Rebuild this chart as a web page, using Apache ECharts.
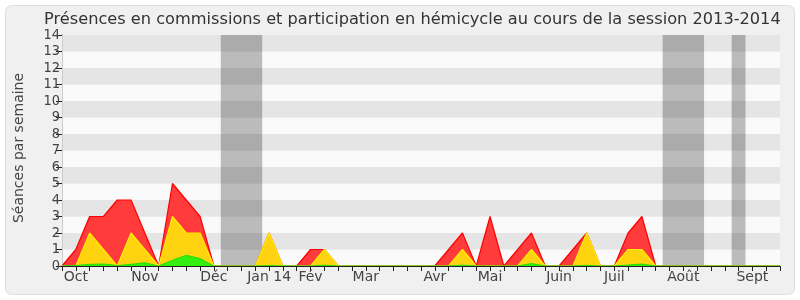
<!DOCTYPE html>
<html>
<head>
<meta charset="utf-8">
<script src="https://cdn.jsdelivr.net/npm/echarts@6/dist/echarts.min.js"></script>
<style>
html,body{margin:0;padding:0;background:#ffffff;}
#c{width:800px;height:300px;}
</style>
</head>
<body>
<div id="c"></div>
<script>
// Weekly values, weeks 0..52 of the 2013-2014 session
const weeks = Array.from({length: 53}, (_, i) => i);
const redTotal = [0,1,3,3,4,4,2,0,5,4,3,0,0,0,0,2,0,0,1,1,0,0,0,0,0,0,0,0,1,2,0,3,0,1,2,0,0,1,2,0,0,2,3,0,0,0,0,0,0,0,0,0,0];
const yellowTop = [0,0,2,1,0,2,1,0,3,2,2,0,0,0,0,2,0,0,0,1,0,0,0,0,0,0,0,0,0,1,0,0,0,0,1,0,0,0,2,0,0,1,1,0,0,0,0,0,0,0,0,0,0];
const greenTop = [0,0.03,0.1,0.12,0.03,0.1,0.2,0,0.35,0.65,0.45,0,0,0,0,0.03,0,0,0,0.05,0,0,0,0,0,0,0,0,0,0.05,0,0,0,0,0.15,0,0,0,0.04,0,0,0.06,0.12,0,0,0,0,0,0,0,0,0,0];
const monthWeeks = [1,6,11,15,18,22,27,31,36,40,45,50];
const monthLabels = ['Oct','Nov','Déc','Jan 14','Fév','Mar','Avr','Mai','Juin','Juil','Août','Sept'];
const vacances = [[11.5,14.5],[43.5,46.5],[48.5,49.5]];
const yTicks = [0,1,2,3,4,5,6,7,8,9,10,11,12,13,14];
const titleText = 'Présences en commissions et participation en hémicycle au cours de la session 2013-2014';
const yName = 'Séances par semaine';

const FONT = 'DejaVu Sans';
const pairs = arr => weeks.map((w, i) => [w, arr[i]]);
const labelMap = {};
monthWeeks.forEach((w, i) => labelMap[w] = monthLabels[i]);

const chart = echarts.init(document.getElementById('c'), null, {renderer: 'canvas'});
chart.setOption({
  animation: false,
  backgroundColor: '#ffffff',
  textStyle: {fontFamily: FONT},
  graphic: [
    {type: 'rect', z: -10, shape: {x: 5.5, y: 5.5, width: 789, height: 289, r: 6},
     style: {fill: '#f0f0f0', stroke: '#dedede', lineWidth: 1}},
    {type: 'text', z: 10, left: 44, top: 12,
     style: {text: titleText, font: '16.2px "DejaVu Sans"', fill: '#333333'}},
    {type: 'text', z: 10, x: 12, y: 148, rotation: Math.PI / 2, originX: 0, originY: 0,
     style: {text: yName, font: '14px "DejaVu Sans"', fill: '#444444', align: 'center', verticalAlign: 'top'}}
  ],
  grid: {left: 62, right: 20, top: 35, bottom: 34, containLabel: false},
  xAxis: [
    {type: 'value', min: 0, max: 52, interval: 1, z: 10,
     axisLine: {show: true, lineStyle: {color: '#222222', width: 1}},
     axisTick: {show: true, length: 5, lineStyle: {color: '#222222'}},
     axisLabel: {show: true, margin: 4, fontSize: 14, fontFamily: FONT, color: '#444444',
       formatter: v => labelMap[v] || ''},
     splitLine: {show: false}},
    {type: 'value', min: 0, max: 52, position: 'top', z: 10,
     axisLine: {show: true, lineStyle: {color: '#222222', width: 1, type: [1, 13], dashOffset: -4}},
     axisTick: {show: false}, axisLabel: {show: false}, splitLine: {show: false}}
  ],
  yAxis: [
    {type: 'value', min: 0, max: 14, interval: 1,
     axisLine: {show: true, lineStyle: {color: '#222222'}},
     axisTick: {show: true, length: 6, lineStyle: {color: '#222222'}},
     axisLabel: {margin: 2, fontSize: 14.5, fontFamily: '"DejaVu Sans Condensed", "DejaVu Sans"', color: '#444444',
       formatter: v => yTicks.includes(v) ? String(v) : ''},
     splitLine: {show: false},
     splitArea: {show: true, areaStyle: {color: ['#fafafa', '#e5e5e5']}}},
    {type: 'value', min: 0, max: 14, position: 'right',
     axisLine: {show: true, lineStyle: {color: '#cccccc'}},
     axisTick: {show: false}, axisLabel: {show: false}, splitLine: {show: false}}
  ],
  series: [
    {type: 'line', name: 'red', data: pairs(redTotal), symbol: 'none', z: 2,
     lineStyle: {color: '#ff0000', width: 1.2},
     areaStyle: {color: '#ff3b3b', opacity: 1, origin: 0},
     markArea: {silent: true, itemStyle: {color: 'rgba(0,0,0,0.25)'},
       data: vacances.map(v => [{xAxis: v[0]}, {xAxis: v[1]}])}},
    {type: 'line', name: 'yellow', data: pairs(yellowTop), symbol: 'none', z: 3,
     lineStyle: {color: '#ffee00', width: 1.2},
     areaStyle: {color: '#ffd30f', opacity: 1, origin: 0}},
    {type: 'line', name: 'green', data: pairs(greenTop), symbol: 'none', z: 4,
     lineStyle: {color: '#22dd00', width: 1},
     areaStyle: {color: '#33ee11', opacity: 1, origin: 0}}
  ]
});
</script>
</body>
</html>
